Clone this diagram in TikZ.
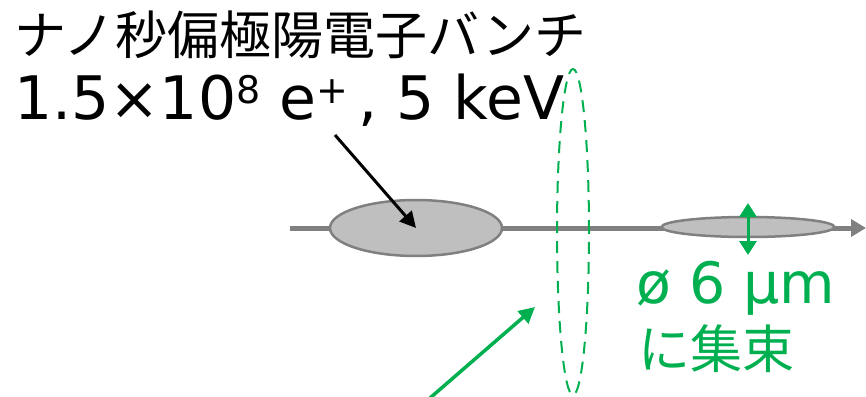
\documentclass[tikz,border=0pt]{standalone}
\usepackage{fontspec}
\setmainfont{Noto Sans CJK JP}
\newfontfamily\latinfont{DejaVu Sans}
\usetikzlibrary{arrows.meta,shapes.geometric,positioning}
\definecolor{beamgray}{HTML}{808080}
\definecolor{bunchfill}{HTML}{BFBFBF}
\definecolor{lensgreen}{HTML}{00B050}
\newcommand{\upidx}[1]{\raisebox{16pt}{\fontsize{38}{38}\selectfont #1}}

\begin{document}
\begin{tikzpicture}[x=1pt, y=-1pt]
        \tikzstyle{bunch}=[draw=beamgray, line width=2.5pt, fill=bunchfill, ellipse, inner sep=0pt]
        \tikzstyle{note}=[inner sep=0pt, anchor=base west, font=\fontsize{52}{60}\selectfont]
        \tikzstyle{latinnote}=[note, font=\fontsize{60}{66}\selectfont\latinfont]
        \tikzstyle{greennote}=[note, text=lensgreen]
        \useasboundingbox (0,0) rectangle (866,396);

        % beam axis and bunches
        \coordinate (axisL) at (290,228);
        \coordinate (axisR) at (866,228);
        \draw[beamgray, line width=5pt, -{Triangle[length=15pt, width=17pt]}] (axisL) -- (axisR);
        \node[bunch, minimum width=172pt, minimum height=56pt] (bunchA) at (416,228) {};
        \node[bunch, minimum width=173pt, minimum height=20pt] (bunchB) at (748,227) {};

        % focusing lens
        \node[draw=lensgreen, line width=2pt, dash pattern=on 12pt off 8pt, ellipse, inner sep=0pt,
              minimum width=32pt, minimum height=326pt] (lens) at (573,232) {};

        % texts
        \node[note] (title) at (14,54) {ナノ秒偏極陽電子バンチ};
        \node[latinnote] (params) at (14,119) {1.5×10\upidx{8} e\upidx{+}\,, 5 keV};
        \node[greennote, font=\fontsize{57}{62}\selectfont\latinfont] (spot) at (636,303) {ø 6 μm};
        \node[greennote] (focus) at (638,368) {に集束};

        % pointers
        \coordinate (ptrA) at (335,135);
        \draw[line width=3pt, -{Triangle[length=16pt, width=16pt]}] (ptrA) -- (bunchA.center);
        \coordinate (ptrB) at (430,398);
        \coordinate (ptrBend) at (535,307);
        \draw[lensgreen, line width=3.5pt, -{Triangle[length=16pt, width=16pt]}] (ptrB) -- (ptrBend);
        \coordinate (sizeT) at (748,203);
        \coordinate (sizeB) at (748,255);
        \draw[lensgreen, line width=3pt, {Triangle[length=14pt, width=17pt]}-{Triangle[length=14pt, width=17pt]}] (sizeT) -- (sizeB);
\end{tikzpicture}
\end{document}
